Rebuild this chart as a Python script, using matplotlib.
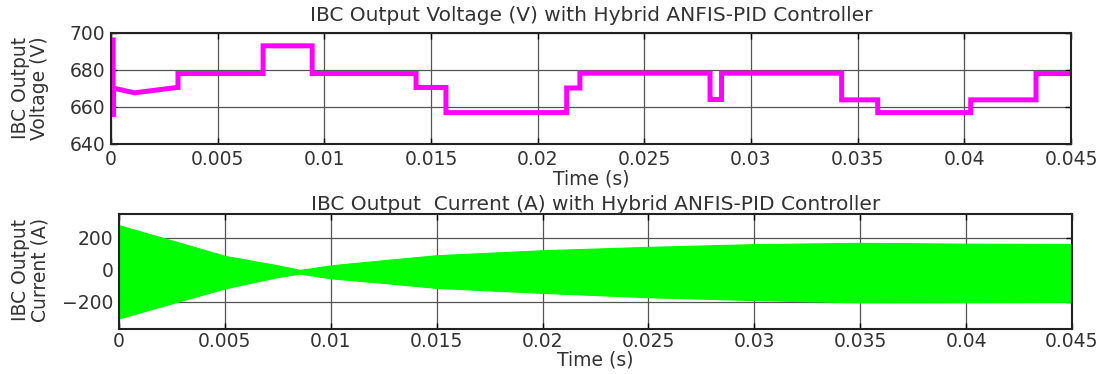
import matplotlib
matplotlib.use("Agg")
import matplotlib.pyplot as plt

# ---- Data ----
# Voltage waveform (polyline points, vertical steps as repeated times)
v_time = [0.0001, 0.0001, 0.0001, 0.0002, 0.0011, 0.0031,
          0.00314, 0.00314, 0.00713, 0.00713, 0.00943, 0.00943,
          0.0143, 0.0143, 0.0157, 0.0157, 0.02136, 0.02136,
          0.02198, 0.02198, 0.02808, 0.02808, 0.02862, 0.02862,
          0.03425, 0.03425, 0.03594, 0.03594, 0.0403, 0.0403,
          0.04336, 0.04336, 0.045]
v_vals = [696.0, 654.5, 670.0, 669.7, 667.4, 670.3,
          670.3, 677.8, 677.8, 692.8, 692.8, 677.8,
          677.8, 670.3, 670.3, 656.7, 656.7, 670.0,
          670.0, 678.0, 678.0, 663.8, 663.8, 678.0,
          678.0, 663.6, 663.6, 656.7, 656.7, 663.6,
          663.6, 677.8, 677.8]

# Current waveform envelope (dense oscillation drawn as a band)
i_time = [0.0, 0.0025, 0.005, 0.0075, 0.00855, 0.01, 0.0125, 0.015,
          0.02, 0.025, 0.03, 0.035, 0.04, 0.045]
i_upper = [277, 182, 86, 27, -2, 27, 59, 90, 121, 142, 159, 167, 162, 160]
i_lower = [-304, -210, -117, -46, -25, -54, -83, -114, -145, -172, -190, -204, -203, -200]

x_ticks = [0, 0.005, 0.01, 0.015, 0.02, 0.025, 0.03, 0.035, 0.04, 0.045]
x_tick_labels = ["0", "0.005", "0.01", "0.015", "0.02", "0.025", "0.03", "0.035", "0.04", "0.045"]
v_ticks = [640, 660, 680, 700]
i_ticks = [-200, 0, 200]

plt.rcParams['font.family'] = ['DejaVu Sans']
W, H = 1107, 374
fig = plt.figure(figsize=(W / 100, H / 100), dpi=100)

def px_axes(l, r, t, b):
    return fig.add_axes([l / W, 1 - b / H, (r - l) / W, (b - t) / H])

ax1 = px_axes(111, 1071, 32.5, 143.5)
ax2 = px_axes(119, 1072, 214.3, 329)

GRAY = '#333333'
FS = 13.5
TFS = 14.5

def style(ax, pad):
    ax.set_xlim(0, 0.045)
    ax.set_xticks(x_ticks)
    ax.set_xticklabels(x_tick_labels)
    ax.grid(True, color='#555555', linewidth=0.9)
    ax.set_axisbelow(True)
    ax.tick_params(direction='in', top=True, right=True, length=4,
                   labelsize=FS, labelcolor=GRAY, width=1)
    ax.tick_params(axis='x', pad=pad)
    ax.tick_params(axis='y', pad=4)
    for s in ax.spines.values():
        s.set_linewidth(1.5)
        s.set_color('#222222')
    ax.set_xlabel("Time (s)", fontsize=FS, color=GRAY, labelpad=0)

# Top: voltage
ax1.plot(v_time, v_vals, color='#FF00FF', linewidth=3.6, solid_joinstyle='miter')
ax1.set_ylim(640, 700)
ax1.set_yticks(v_ticks)
style(ax1, 5)
ax1.set_title("IBC Output Voltage (V) with Hybrid ANFIS-PID Controller",
              fontsize=TFS, color=GRAY, pad=8)
fig.text(30 / W, 1 - 88 / H, "IBC Output\nVoltage (V)", rotation=90,
         ha='center', va='center', fontsize=FS, color=GRAY, linespacing=1.05)

# Bottom: current
ax2.fill_between(i_time, i_lower, i_upper, color='#00FF00', linewidth=0.8,
                 edgecolor='#00FF00', zorder=2)
ax2.set_ylim(-370, 345)
ax2.set_yticks(i_ticks)
style(ax2, 2)
ax2.set_title("IBC Output  Current (A) with Hybrid ANFIS-PID Controller",
              fontsize=TFS, color=GRAY, pad=3)
fig.text(30 / W, 1 - 270 / H, "IBC Output\nCurrent (A)", rotation=90,
         ha='center', va='center', fontsize=FS, color=GRAY, linespacing=1.05)

fig.savefig("out.png", dpi=100)
